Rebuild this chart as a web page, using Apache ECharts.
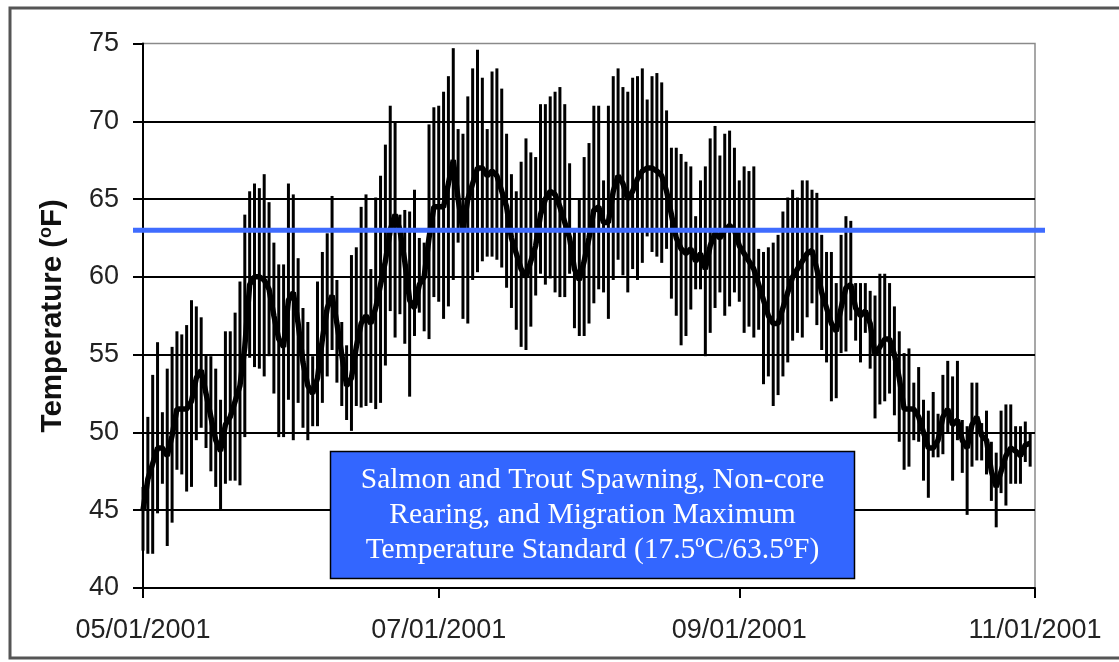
<!DOCTYPE html>
<html><head><meta charset="utf-8">
<script src="https://cdn.jsdelivr.net/npm/echarts@6/dist/echarts.min.js"></script>
<style>html,body{margin:0;padding:0;background:#fff}#c{width:1119px;height:662px}</style>
</head><body><div id="c"></div>
<script>
// ---- data ----
const startYear = 2001, startMonth = 5, startDay = 1;
const dayCount = 185; // 05/01/2001 .. 11/01/2001
const tickLabels = ['05/01/2001', '07/01/2001', '09/01/2001', '11/01/2001'];
const yTickMin = 40, yTickMax = 75, yTickStep = 5;
const standardF = 63;
const standardLabel = 'Salmon and Trout Spawning, Non-core\nRearing, and Migration Maximum\nTemperature Standard (17.5\u00baC/63.5\u00baF)';
const yTitle = 'Temperature (';

const dailyMax = [
  46.5, 51.0, 53.7, 55.8, 51.3, 54.1, 55.5, 56.5, 56.3, 56.9,
  58.5, 58.1, 57.4, 55.0, 54.9, 54.1, 52.1, 56.5, 56.5, 57.7,
  59.7, 64.0, 65.5, 66.0, 65.7, 66.6, 64.8, 62.2, 60.8, 60.8,
  66.0, 65.3, 61.2, 58.0, 57.1, 54.9, 59.7, 61.6, 62.8, 65.2,
  59.8, 57.1, 55.6, 61.4, 61.9, 64.5, 65.3, 60.5, 65.1, 66.5,
  68.5, 71.0, 70.0, 64.0, 64.3, 64.2, 65.6, 62.5, 62.2, 69.8,
  70.9, 71.0, 71.9, 72.9, 74.7, 69.5, 69.2, 71.6, 73.4, 74.6,
  72.8, 69.5, 73.2, 73.4, 72.1, 69.2, 66.6, 65.5, 67.4, 68.9,
  68.0, 67.7, 71.1, 71.1, 71.6, 71.9, 72.2, 71.1, 67.3, 62.9,
  65.0, 67.7, 68.6, 71.0, 71.0, 66.2, 71.0, 72.9, 73.4, 72.2,
  71.9, 72.8, 72.9, 73.4, 71.4, 72.9, 73.1, 72.5, 70.7, 68.3,
  68.3, 67.9, 67.4, 67.1, 63.9, 66.2, 67.1, 68.9, 69.7, 67.8,
  69.2, 69.4, 68.3, 66.2, 67.1, 66.8, 67.1, 61.8, 61.6, 61.9,
  62.2, 62.7, 64.2, 65.1, 65.6, 65.1, 66.2, 66.2, 65.6, 65.4,
  62.7, 61.6, 61.6, 59.6, 62.7, 63.9, 63.6, 59.6, 59.6, 59.6,
  59.1, 58.8, 60.2, 60.2, 59.6, 58.1, 56.5, 55.1, 55.4, 53.2,
  54.2, 52.1, 51.4, 52.6, 51.2, 53.7, 54.6, 53.6, 54.6, 50.8,
  50.4, 53.2, 53.2, 50.6, 51.4, 49.4, 48.7, 51.4, 51.8, 51.8,
  50.4, 50.4, 50.7, 49.9
];
const dailyMin = [
  42.4, 42.2, 42.2, 44.8, 46.7, 42.7, 44.2, 47.6, 47.3, 46.2,
  46.5, 49.5, 50.3, 49.0, 47.5, 46.5, 45.0, 46.7, 46.9, 46.9,
  46.6, 49.7, 54.8, 54.2, 54.1, 53.6, 54.9, 52.5, 49.7, 49.7,
  52.1, 49.5, 51.9, 50.3, 49.5, 50.4, 50.4, 51.9, 53.6, 55.3,
  53.2, 51.7, 50.8, 50.1, 51.7, 51.6, 51.7, 51.9, 51.5, 51.9,
  54.3, 57.8, 56.1, 57.6, 55.7, 52.3, 56.2, 57.7, 56.5, 56.0,
  58.7, 58.4, 57.3, 58.1, 59.8, 62.2, 57.3, 57.0, 59.8, 60.3,
  61.0, 61.3, 61.3, 61.1, 60.6, 59.3, 58.0, 56.6, 55.5, 55.3,
  56.8, 58.8, 60.2, 59.5, 59.9, 59.0, 58.7, 58.7, 60.2, 56.7,
  56.2, 56.2, 57.0, 58.3, 59.2, 59.0, 57.3, 59.8, 61.1, 60.1,
  59.0, 60.5, 59.8, 60.9, 62.6, 61.6, 61.3, 60.9, 61.8, 58.6,
  57.5, 55.6, 56.2, 57.9, 59.2, 59.2, 54.9, 56.4, 58.0, 59.0,
  57.5, 58.1, 59.0, 58.4, 56.4, 56.8, 56.1, 56.6, 53.1, 53.6,
  51.7, 52.4, 53.6, 54.5, 55.9, 56.4, 56.1, 57.4, 58.3, 56.9,
  55.3, 54.5, 52.0, 52.2, 55.1, 55.2, 57.2, 55.9, 54.5, 56.4,
  54.1, 50.9, 51.8, 52.0, 52.5, 51.1, 49.4, 47.6, 47.8, 49.5,
  49.4, 46.9, 45.8, 48.4, 48.4, 48.6, 49.9, 46.9, 49.5, 47.4,
  44.7, 47.8, 48.2, 48.2, 47.3, 45.6, 43.9, 46.1, 45.3, 46.7,
  46.7, 46.7, 48.1, 47.8
];
const dailyMean = [
  45.0, 47.0, 48.0, 49.0, 49.0, 48.5, 49.8, 51.5, 51.5, 51.5,
  52.0, 53.5, 54.0, 52.5, 51.0, 49.5, 48.8, 50.5, 51.0, 52.0,
  53.0, 55.5, 59.5, 60.0, 60.0, 59.8, 59.2, 57.5, 56.0, 55.5,
  58.5, 59.0, 57.0, 54.5, 53.0, 52.5, 53.5, 56.0, 58.0, 58.8,
  57.0, 55.0, 53.0, 53.5, 55.5, 57.0, 57.5, 57.0, 58.0, 59.5,
  61.0, 63.0, 64.0, 63.0, 61.0, 58.5, 58.0, 59.5, 60.0, 62.5,
  64.5, 64.5, 64.5, 66.0, 67.5, 65.0, 63.0, 65.0, 66.0, 67.0,
  67.0, 66.5, 66.8, 66.5, 65.5, 64.5, 62.5, 61.5, 60.5, 60.0,
  61.0, 62.0, 64.0, 65.0, 65.5, 65.3, 64.5, 63.5, 62.5, 60.5,
  59.8, 61.0, 62.5, 64.3, 64.5, 63.5, 63.5, 65.5, 66.5, 66.0,
  65.0, 65.5, 66.3, 66.8, 67.0, 67.0, 66.8, 66.5, 65.5, 64.0,
  62.5, 61.8, 61.5, 61.8, 61.0, 61.5, 60.5, 62.0, 62.8, 62.5,
  63.0, 63.3, 63.0, 62.0, 61.5, 61.0, 60.5, 59.5, 58.5, 57.5,
  57.0, 57.0, 58.0, 59.0, 60.0, 60.5, 61.0, 61.5, 61.7, 60.5,
  59.0, 58.0, 57.0, 56.5, 58.0, 59.3, 59.5, 58.0, 57.5, 57.8,
  57.0, 55.0, 55.5, 56.0, 56.0, 55.0, 53.5, 51.5, 51.5, 51.5,
  51.0, 50.0, 49.0, 49.0, 49.5, 51.0, 51.5, 50.5, 50.8, 49.5,
  49.0, 50.5, 51.0, 49.8, 49.5, 47.5, 46.5, 47.5, 48.5, 49.0,
  48.8, 48.5, 49.2, 49.3
];

// ---- build categories ----
const pad = n => (n < 10 ? '0' : '') + n;
const categories = [];
for (let i = 0; i < dayCount; i++) {
  const d = new Date(Date.UTC(startYear, startMonth - 1, startDay + i));
  categories.push(pad(d.getUTCMonth() + 1) + '/' + pad(d.getUTCDate()) + '/' + d.getUTCFullYear());
}
const showTick = (idx, val) => tickLabels.indexOf(categories[idx]) >= 0;
const rangeData = dailyMax.map((h, i) => [i, dailyMin[i], h]);

const chart = echarts.init(document.getElementById('c'), null, { renderer: 'canvas' });
chart.setOption({
  animation: false,
  backgroundColor: '#fff',
  grid: [
    { left: 143, right: 84, top: 43.5, bottom: 74, show: true, borderColor: '#8a8a8a', borderWidth: 1.5, backgroundColor: '#fff' },
    { left: 133, right: 74, top: 43.5, bottom: 74 }
  ],
  xAxis: [{
    type: 'category', data: categories, boundaryGap: false, gridIndex: 0,
    axisLine: { lineStyle: { color: '#000', width: 2 } },
    axisTick: { show: true, interval: showTick, length: 10, lineStyle: { color: '#000', width: 2 } },
    axisLabel: { interval: showTick, margin: 29, color: '#222', fontFamily: 'Liberation Sans', fontSize: 27 },
    splitLine: { show: false }
  }, {
    type: 'value', gridIndex: 1, min: 0, max: 1, show: false
  }],
  yAxis: [{
    type: 'value', min: yTickMin, max: yTickMax, interval: yTickStep, gridIndex: 0,
    name: '{a|' + yTitle + '}{s|o}{a|F)}',
    nameLocation: 'middle', nameGap: 74, nameRotate: 90,
    nameTextStyle: {
      rich: {
        a: { fontFamily: 'Liberation Sans', fontSize: 29.5, fontWeight: 'bold', color: '#111', lineHeight: 32 },
        s: { fontFamily: 'Liberation Sans', fontSize: 18, fontWeight: 'bold', color: '#111', verticalAlign: 'top', lineHeight: 32, padding: [0, 0, 11, 0] }
      }
    },
    axisLine: { show: true, lineStyle: { color: '#000', width: 2 } },
    axisTick: { show: true, length: 10, lineStyle: { color: '#000', width: 2 } },
    axisLabel: { margin: 24, color: '#222', fontFamily: 'Liberation Sans', fontSize: 27 },
    splitLine: { show: true, showMinLine: false, showMaxLine: false, lineStyle: { color: '#000', width: 2 } }
  }, {
    type: 'value', gridIndex: 1, min: yTickMin, max: yTickMax, show: false
  }],
  series: [{
    type: 'custom', name: 'Daily range', xAxisIndex: 0, yAxisIndex: 0, z: 2,
    data: rangeData,
    encode: { x: 0, y: [1, 2] },
    renderItem: function (params, api) {
      const i = api.value(0);
      const p1 = api.coord([i, api.value(1)]);
      const p2 = api.coord([i, api.value(2)]);
      return { type: 'line', shape: { x1: p1[0], y1: p1[1], x2: p2[0], y2: p2[1] },
               style: { stroke: '#000', lineWidth: 3 } };
    }
  }, {
    type: 'line', name: 'Daily mean', xAxisIndex: 0, yAxisIndex: 0, z: 3,
    data: dailyMean, showSymbol: false, symbol: 'none',
    lineStyle: { color: '#000', width: 5.5 }
  }, {
    type: 'line', name: 'Standard', xAxisIndex: 1, yAxisIndex: 1, z: 4,
    data: [[0, standardF], [1, standardF]], showSymbol: false, symbol: 'none',
    lineStyle: { color: '#3f6cff', width: 5 }
  }],
  graphic: [
    { type: 'rect', z: 0, silent: true, shape: { x: 10, y: 8, width: 1200, height: 650 },
      style: { fill: 'none', stroke: '#555', lineWidth: 3 } },
    { type: 'rect', z: 100, shape: { x: 330.5, y: 451.5, width: 524, height: 127 },
      style: { fill: '#3366ff', stroke: '#000', lineWidth: 1.5 } },
    { type: 'text', z: 101, x: 592.5, y: 515,
      style: { text: standardLabel, fill: '#fff', font: '29.5px "Liberation Serif"',
               align: 'center', verticalAlign: 'middle', lineHeight: 35 } }
  ]
});
</script></body></html>
